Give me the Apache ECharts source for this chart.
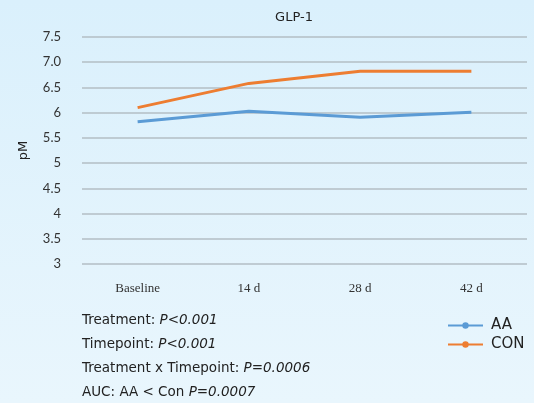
<!DOCTYPE html>
<html><head><meta charset="utf-8">
<script src="https://cdn.jsdelivr.net/npm/echarts@6/dist/echarts.min.js"></script>
<style>html,body{margin:0;padding:0;}#c{width:534px;height:403px;background:linear-gradient(180deg,#daf0fc 0%,#e9f6fd 100%);}</style>
</head><body><div id="c"></div>
<script>
const categories = ['Baseline', '14 d', '28 d', '42 d'];
const aaValues = [5.82, 6.03, 5.91, 6.01];
const conValues = [6.10, 6.58, 6.82, 6.82];
const yTickLabels = {'3':'3','3.5':'3.5','4':'4','4.5':'4.5','5':'5','5.5':'5.5','6':'6','6.5':'6.5','7':'7.0','7.5':'7.5'};
const notes = [
  ['Treatment: ', 'P<0.001'],
  ['Timepoint: ', 'P<0.001'],
  ['Treatment x Timepoint: ', 'P=0.0006'],
  ['AUC: AA < Con ', 'P=0.0007']
];
const chart = echarts.init(document.getElementById('c'), null, {renderer:'canvas'});
const sans = 'Lato, sans-serif';
const wide = '"DejaVu Sans", sans-serif';
chart.setOption({
  backgroundColor: 'transparent',
  title: {text:'GLP-1', left: 289, top: 6, textAlign:'center',
    textStyle:{fontFamily: wide, fontSize: 13, fontWeight:'normal', color:'#222'}},
  grid: {left: 82, right: 7, top: 37, height: 227},
  xAxis: {type:'category', data: categories, boundaryGap: true,
    axisLine:{show:false}, axisTick:{show:false},
    axisLabel:{fontFamily:'"Liberation Serif", serif', fontSize: 13, color:'#333', margin: 18}},
  yAxis: {type:'value', min:3, max:7.5, interval:0.5,
    name:'pM', nameLocation:'middle', nameGap: 52, nameRotate: 90,
    nameTextStyle:{fontFamily: wide, fontSize: 13, color:'#222'},
    axisLine:{show:false}, axisTick:{show:false},
    axisLabel:{fontFamily: sans, fontSize: 13, color:'#333', margin: 21,
      formatter: v => yTickLabels[String(v)] ?? String(v)},
    splitLine:{lineStyle:{color:'#b3bec5', width:1.5}}},
  legend: {orient:'vertical', left: 442, top: 313, itemWidth: 35, itemHeight: 8, itemGap: 4,
    textStyle:{fontFamily: wide, fontSize: 15, color:'#222', padding:[0,0,0,3]},
    data:['AA','CON']},
  series: [
    {name:'AA', type:'line', data: aaValues, symbol:'circle', symbolSize:7, showSymbol:false,
      lineStyle:{width:3, color:'#5b9bd5'}, itemStyle:{color:'#5b9bd5'}},
    {name:'CON', type:'line', data: conValues, symbol:'circle', symbolSize:7, showSymbol:false,
      lineStyle:{width:3, color:'#ed7d31'}, itemStyle:{color:'#ed7d31'}}
  ],
  graphic: notes.map((n, i) => ({
    type:'text', left: 82, top: 313 + i*24,
    style:{
      text: n[0] + '{i|' + n[1] + '}',
      font: '13.5px ' + wide, fill:'#222',
      rich:{i:{fontStyle:'italic', fontFamily: wide, fontSize: 13.5, fill:'#222'}}
    }
  }))
});
</script></body></html>
